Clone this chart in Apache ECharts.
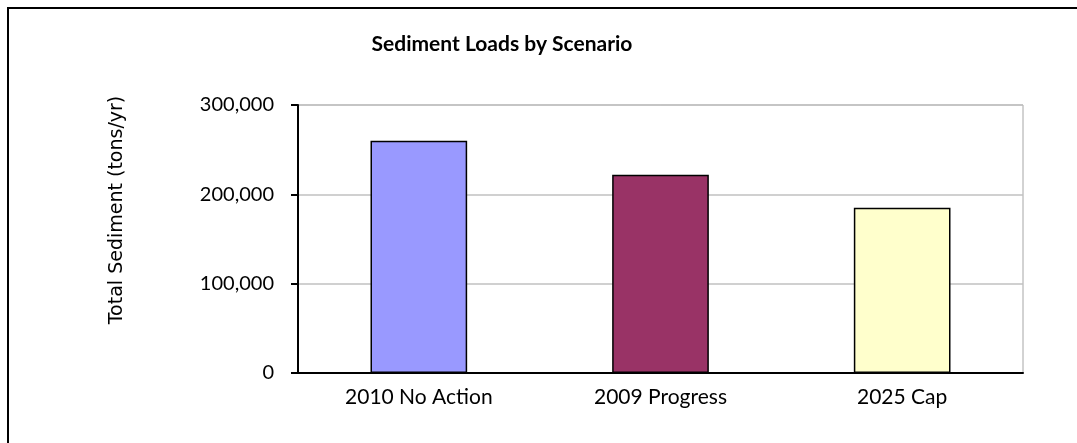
<!DOCTYPE html>
<html>
<head>
<meta charset="utf-8">
<script src="https://cdn.jsdelivr.net/npm/echarts@6/dist/echarts.min.js"></script>
<style>
  html, body { margin: 0; padding: 0; background: #fff; }
  #chart { width: 1077px; height: 443px; }
</style>
</head>
<body>
<div id="chart"></div>
<script>
// Scenario names along the x axis
const scenarios = ['2010 No Action', '2009 Progress', '2025 Cap'];
// Total sediment load per scenario (tons/yr)
const sedimentLoads = [260000, 222000, 185000];
// Fill colour for each scenario bar
const barColors = ['#9999FF', '#993366', '#FFFFCC'];
// Value axis range and step
const yMin = 0;
const yMax = 300000;
const yStep = 100000;

const chart = echarts.init(document.getElementById('chart'), null, { renderer: 'canvas' });

const fmt = v => v.toLocaleString('en-US');

chart.setOption({
  animation: false,
  backgroundColor: '#ffffff',
  title: {
    text: 'Sediment Loads by Scenario',
    left: 497,
    top: 29,
    textAlign: 'center',
    textStyle: { fontFamily: 'Lato', fontWeight: 'bold', fontSize: 21, color: '#000' }
  },
  graphic: [
    {
      // chart frame
      type: 'rect',
      shape: { x: 8, y: 8, width: 1100, height: 460 },
      style: { fill: 'none', stroke: '#000', lineWidth: 2 },
      silent: true
    },
    {
      type: 'text',
      x: 117,
      y: 210,
      rotation: Math.PI / 2,
      style: {
        text: 'Total Sediment (tons/yr)',
        fontFamily: 'DejaVu Sans',
        fontSize: 19,
        fill: '#000',
        textAlign: 'center',
        textVerticalAlign: 'middle'
      }
    }
  ],
  grid: {
    left: 298, right: 54, top: 105, bottom: 70,
    show: true,
    borderColor: '#a6a6a6',
    borderWidth: 1,
    backgroundColor: '#fff'
  },
  xAxis: {
    type: 'category',
    data: scenarios,
    axisLine: { lineStyle: { color: '#000', width: 2 } },
    axisTick: { show: false },
    axisLabel: { margin: 14, fontFamily: 'Lato', fontSize: 21, color: '#000' }
  },
  yAxis: {
    type: 'value',
    min: yMin,
    max: yMax,
    interval: yStep,
    axisLine: { show: true, lineStyle: { color: '#000', width: 2 } },
    axisTick: { show: true, length: 7, lineStyle: { color: '#000', width: 2 } },
    splitLine: { lineStyle: { color: '#c0c0c0', width: 1.5 } },
    axisLabel: {
      margin: 24,
      fontFamily: 'Lato',
      fontSize: 20,
      color: '#000',
      formatter: fmt
    }
  },
  series: [{
    type: 'bar',
    barWidth: '40%',
    data: sedimentLoads.map((v, i) => ({
      value: v,
      itemStyle: { color: barColors[i] }
    })),
    itemStyle: { borderColor: '#000', borderWidth: 1.5 }
  }]
});
</script>
</body>
</html>
